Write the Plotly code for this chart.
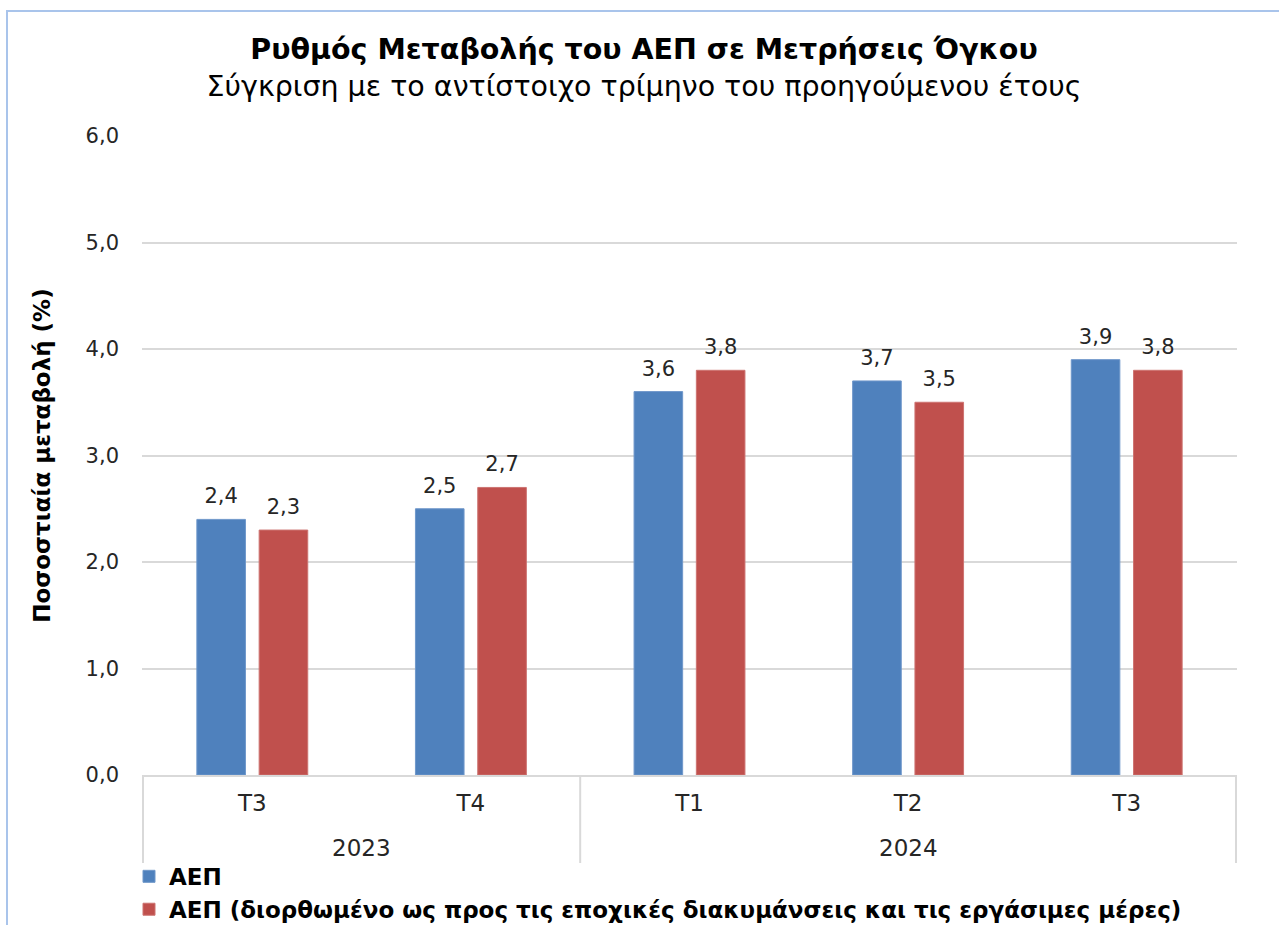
import plotly.graph_objects as go

years = ["2023", "2023", "2024", "2024", "2024"]
quarters = ["Τ3", "Τ4", "Τ1", "Τ2", "Τ3"]
gdp = [2.4, 2.5, 3.6, 3.7, 3.9]
gdp_adj = [2.3, 2.7, 3.8, 3.5, 3.8]
y_ticks = [0, 1, 2, 3, 4, 5, 6]
y_tick_text = ["0,0", "1,0", "2,0", "3,0", "4,0", "5,0", "6,0"]

series_names = ["ΑΕΠ", "ΑΕΠ (διορθωμένο ως προς τις εποχικές διακυμάνσεις και τις εργάσιμες μέρες)"]
colors = ["#4F81BD", "#C0504D"]
line_colors = ["#6F97CA", "#CD7371"]

FONT = "DejaVu Sans"
GRID = "#D9D9D9"

W, H = 1279, 925
L, R, T, B = 142, 42, 136, 150
PW, PH = W - L - R, H - T - B
LABEL_LIFT = 8 / PH * 6  # extra gap (axis units) between a bar top and its value label

# unique category keys (year + quarter) so that the order is kept as given
keys = [f"{y} {q}" for y, q in zip(years, quarters)]

fig = go.Figure()
for k, (name, vals, c, lc) in enumerate(zip(series_names, [gdp, gdp_adj], colors, line_colors)):
    fig.add_trace(go.Bar(
        x=keys, y=vals, name=name, offsetgroup=str(k),
        marker=dict(color=c, line=dict(color=lc, width=1)),
        hovertemplate="%{y:.1f}<extra></extra>",
    ))
    # transparent spacer carrying the value labels a little above each bar
    fig.add_trace(go.Bar(
        x=keys, y=[LABEL_LIFT] * len(vals), base=vals,
        offsetgroup=str(k), showlegend=False, hoverinfo="skip",
        marker=dict(color="rgba(0,0,0,0)", line=dict(width=0)),
        text=[f"{v:.1f}".replace(".", ",") for v in vals],
        textposition="outside", cliponaxis=False,
        textfont=dict(family=FONT, size=21, color="#262626"),
    ))

# second-level (year) labels and group dividers, derived from the years list
annotations = []
shapes = []
groups = []
for i, y in enumerate(years):
    if not groups or groups[-1][0] != y:
        groups.append([y, i, i])
    else:
        groups[-1][2] = i
div_bottom = -(863 - 775) / PH
for y, i0, i1 in groups:
    annotations.append(dict(
        x=(i0 + i1) / 2, y=-(848 - 775) / PH, xref="x", yref="paper",
        text=y, showarrow=False, xanchor="center", yanchor="middle",
        font=dict(family=FONT, size=23, color="#262626"),
    ))
bounds = [groups[0][1] - 0.5] + [g[2] + 0.5 for g in groups]
for b in bounds:
    shapes.append(dict(type="line", xref="x", yref="paper", x0=b, x1=b,
                       y0=0, y1=div_bottom, line=dict(color=GRID, width=2)))

# light-blue frame of the chart area
shapes.append(dict(type="rect", xref="paper", yref="paper",
                   x0=-(L - 7) / PW, x1=1.2, y0=-0.3, y1=1 + (T - 11) / PH,
                   line=dict(color="#A9C4EB", width=2), fillcolor="rgba(0,0,0,0)", layer="below"))

fig.update_layout(
    width=W, height=H,
    margin=dict(l=L, r=R, t=T, b=B, autoexpand=False),
    paper_bgcolor="white", plot_bgcolor="white",
    barmode="group", bargap=0.43, bargroupgap=0.22,
    font=dict(family=FONT, color="#000000"),
    title=dict(
        text="<b>Ρυθμός Μεταβολής του ΑΕΠ σε Μετρήσεις Όγκου</b><br><span style='font-size:28.5px'>Σύγκριση με το αντίστοιχο τρίμηνο του προηγούμενου έτους</span>",
        x=644 / W, xanchor="center", y=1 - 59 / H, yanchor="top",
        font=dict(family=FONT, size=28.5, color="#000000"),
    ),
    yaxis=dict(
        range=[0, 6], tickvals=y_ticks, ticktext=y_tick_text,
        showgrid=True, gridcolor=GRID, gridwidth=1.5,
        zeroline=False, showline=False, ticks="", ticklabelstandoff=22,
        tickfont=dict(family=FONT, size=21, color="#262626"),
        title=dict(text="<b>Ποσοστιαία μεταβολή (%)</b>", standoff=28,
                   font=dict(family=FONT, size=23, color="#000000")),
    ),
    xaxis=dict(
        type="category", categoryorder="array", categoryarray=keys,
        tickvals=keys, ticktext=quarters,
        showline=True, linecolor=GRID, linewidth=1.5, showgrid=False,
        tickfont=dict(family=FONT, size=23, color="#262626"),
        ticks="", ticklabelstandoff=7,
    ),
    legend=dict(
        orientation="v", x=-13 / PW, xanchor="left", y=-0.125, yanchor="top",
        font=dict(family=FONT, size=23, color="#000000", weight="bold"),
        itemwidth=30, tracegroupgap=0, bgcolor="rgba(0,0,0,0)",
        traceorder="normal",
    ),
    annotations=annotations,
    shapes=shapes,
)

fig.write_html(
    "out.html",
    config={"displayModeBar": False},
    post_script="document.body.style.margin='0';document.body.style.overflow='hidden';",
)
